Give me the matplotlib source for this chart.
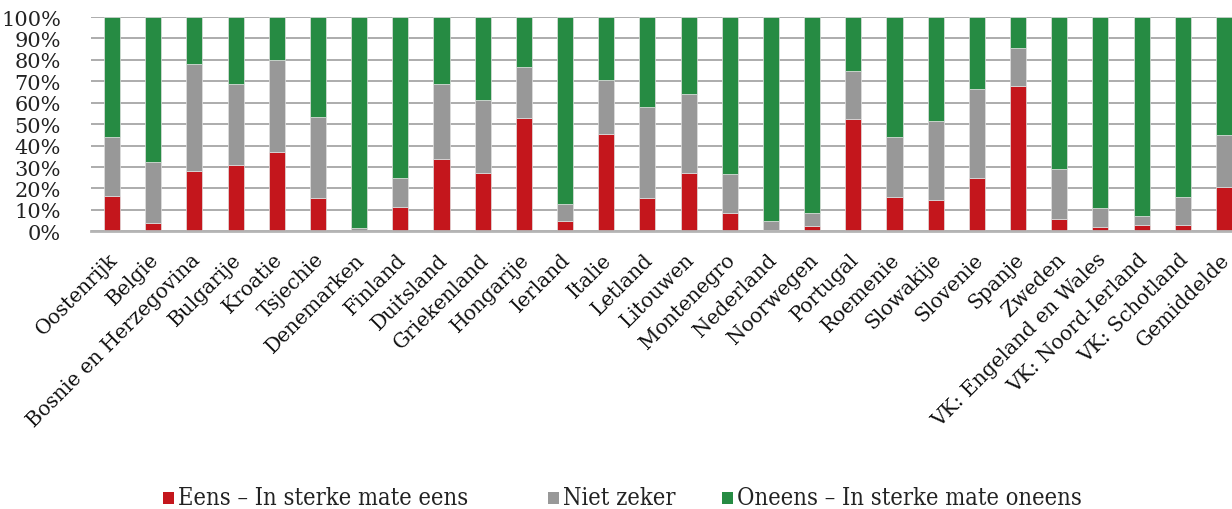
import matplotlib
matplotlib.use("Agg")
import matplotlib.pyplot as plt
import matplotlib.transforms as mtransforms
import numpy as np
from matplotlib.patches import Rectangle

landen = [
    "Oostenrijk", "Belgie", "Bosnie en Herzegovina", "Bulgarije", "Kroatie",
    "Tsjechie", "Denemarken", "Finland", "Duitsland", "Griekenland",
    "Hongarije", "Ierland", "Italie", "Letland", "Litouwen", "Montenegro",
    "Nederland", "Noorwegen", "Portugal", "Roemenie", "Slowakije", "Slovenie",
    "Spanje", "Zweden", "VK: Engeland en Wales", "VK: Noord-Ierland",
    "VK: Schotland", "Gemiddelde",
]

# percentage "eens" (lower segment)
eens = [16.5, 3.9, 28.3, 31.1, 37.2, 15.4, 0.3, 11.5, 33.6, 27.4,
        53.0, 5.0, 45.6, 15.7, 27.4, 8.7, 0.8, 2.6, 52.6, 16.2, 14.8, 25.0,
        67.7, 5.6, 2.0, 3.1, 3.1, 20.5]
# percentage "niet zeker" (middle segment)
niet_zeker = [27.7, 28.6, 49.8, 37.5, 42.7, 37.9, 1.1, 13.5, 35.3, 34.0,
              23.7, 7.8, 25.2, 42.3, 36.7, 18.0, 4.2, 6.0, 22.4, 27.8, 36.7, 41.4,
              17.8, 23.5, 8.9, 3.9, 13.1, 24.6]
# percentage "oneens" completes each bar to 100%
oneens = [100 - a - b for a, b in zip(eens, niet_zeker)]

legend_labels = ["Eens \u2013 In sterke mate eens", "Niet zeker",
                 "Oneens \u2013 In sterke mate oneens"]
y_ticks = [0, 10, 20, 30, 40, 50, 60, 70, 80, 90, 100]

rood = "#c4161c"
grijs = "#989898"
groen = "#268b43"
kleuren = [rood, grijs, groen]

plt.rcParams["font.family"] = ["DejaVu Serif"]

W, H = 1232, 510
fig = plt.figure(figsize=(W / 100, H / 100), dpi=100)
ax = fig.add_axes([0.0742, 0.5445, 0.936, 0.4202])

x = np.arange(len(landen))
w = 0.39
edge = dict(edgecolor="#e0e0e0", linewidth=0.5)
ax.bar(x, eens, w, color=rood, zorder=3, **edge)
ax.bar(x, niet_zeker, w, bottom=eens, color=grijs, zorder=3, **edge)
ax.bar(x, oneens, w, bottom=np.array(eens) + np.array(niet_zeker),
       color=groen, zorder=3, **edge)

ax.set_xlim(-0.5, len(landen) - 0.5)
ax.set_ylim(0, 100)
ax.set_yticks(y_ticks)
ax.set_yticklabels([f"{t}%" for t in y_ticks], fontsize=15, color="#222222")
ax.yaxis.grid(True, color="#a6a6a6", linewidth=1.3, zorder=0)
ax.set_axisbelow(True)
for s in ["top", "right", "left"]:
    ax.spines[s].set_visible(False)
ax.spines["bottom"].set_color("#b4b4b4")
ax.spines["bottom"].set_linewidth(2)
ax.spines["bottom"].set_zorder(4)
ax.tick_params(axis="y", length=0, pad=22)
ax.tick_params(axis="x", length=0, pad=13)
ax.set_xticks(x)
ax.set_xticklabels(landen, rotation=45, ha="right", rotation_mode="anchor",
                   fontsize=14.5, color="#111111")
shift = mtransforms.ScaledTranslation(-4 / 100, 0, fig.dpi_scale_trans)
for lbl in ax.get_xticklabels():
    lbl.set_transform(lbl.get_transform() + shift)

# legend row at the bottom
legend_x = [163, 548, 722]
for px, kleur, tekst in zip(legend_x, kleuren, legend_labels):
    fig.add_artist(Rectangle((px / W, 1 - 505 / H), 11 / W, 12 / H,
                             transform=fig.transFigure, facecolor=kleur,
                             edgecolor="none"))
    fig.text((px + 15) / W, 1 - 505 / H, tekst, ha="left", va="baseline",
             fontsize=17, fontstretch="condensed", color="#222222",
             family=["DejaVu Serif"])

fig.savefig("out.png", dpi=100, facecolor="white")
